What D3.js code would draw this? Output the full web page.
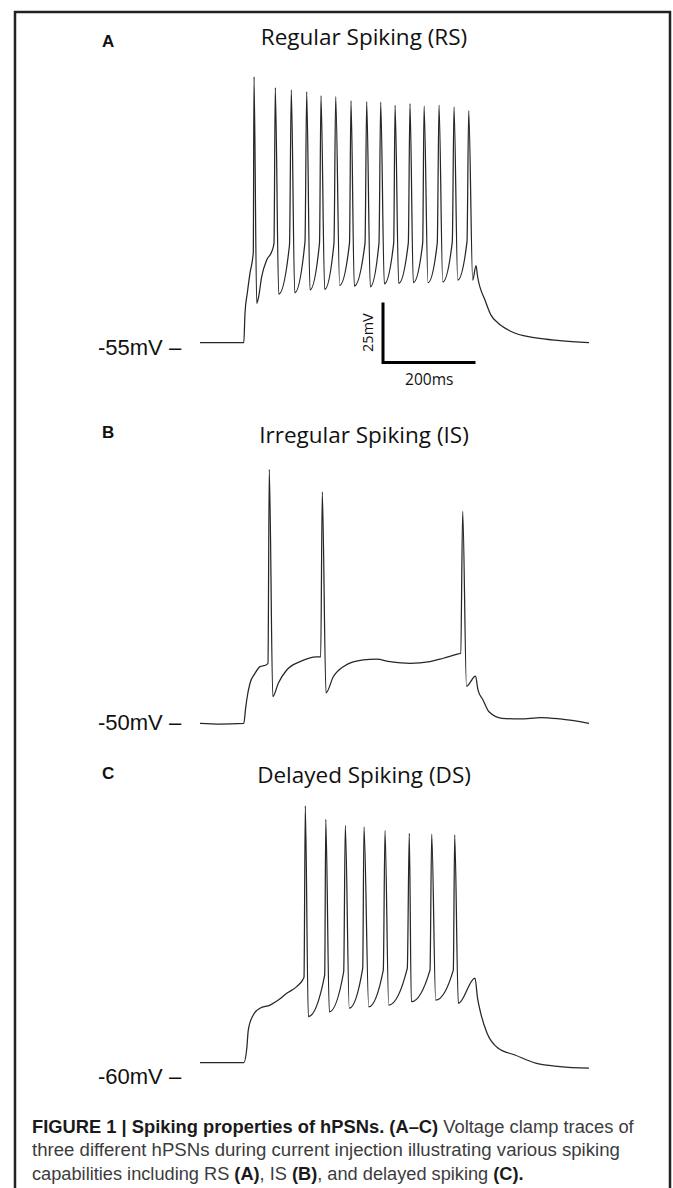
<!DOCTYPE html>
<html>
<head>
<meta charset="utf-8">
<script src="https://cdn.jsdelivr.net/npm/d3@7"></script>
<style>
  body { margin: 0; background: #fff; }
  svg { display: block; }
</style>
</head>
<body>
<script>
// Panel labels and titles
var panelLetters = ['A', 'B', 'C'];
var panelTitles = ['Regular Spiking (RS)', 'Irregular Spiking (IS)', 'Delayed Spiking (DS)'];
var restLabels = ['-55mV \u2013', '-50mV \u2013', '-60mV \u2013'];
var restPotentials = [-55, -50, -60];

// Regular spiking trace (ms, mV)
var rsTimes = [0, 94.7, 97.3, 102.3, 108.1, 115.2, 116.8, 122.6, 126.1, 133.4, 144.2, 155, 160, 162.8, 170.2,
  193.5, 197.4, 204.8, 227, 230.7, 237.8, 258.4, 261.6, 269.6, 289.7, 293.4, 302, 323.2, 326.5, 333.6,
  356.8, 360.4, 368.2, 387, 390.7, 398.5, 418.8, 421.8, 429.6, 450.4, 454, 461.2, 481.5, 484.5, 493,
  513, 516.8, 524.8, 545.5, 549.2, 557.2, 577.3, 581, 589.6, 596.8, 600, 616.2, 629.2, 644.3, 670.3,
  726.5, 778.4, 841];
var rsVolts = [-55, -55, -42.6, -34.3, -26, -17.5, 55.8, -38.6, -36.5, -27.5, -20.5, -17.1, -13.6, 51.3, -34.8,
  -14.3, 50.3, -34.2, -13, 49.6, -33, -13.5, 47.9, -32.8, -13.5, 47.5, -31.1, -13.5, 45.8, -31.4,
  -13.5, 45.4, -31.7, -13.5, 45.2, -30.5, -13.5, 43.9, -30.3, -13.5, 44.6, -30, -13.5, 43.6, -30,
  -13.5, 44, -29.7, -13, 43.3, -28.9, -12.9, 41.7, -28.9, -22.9, -27.2, -37.2, -43.5, -46.8, -50.1,
  -53, -54.1, -55];

// Irregular spiking trace (ms, mV)
var isTimes = [0, 43, 94.7, 98.5, 101, 108.1, 118.9, 129.7, 142.7, 147, 149.8, 157.4, 169.3, 187.5, 216.2,
  252.3, 261, 264.4, 272.4, 288.2, 309.8, 353.1, 381.6, 410.8, 454, 497.3, 526, 558.5, 563.7, 568,
  576.2, 595.7, 601, 611.9, 624.9, 653, 692, 737, 778.4, 841];
var isVolts = [-50, -50.3, -50, -44, -40.3, -33.3, -29.2, -26.4, -25.7, -25, 55.8, -38.9, -33.3, -27.8, -24.3,
  -22.3, -22.3, 46.4, -37.3, -30.6, -26.4, -23.6, -23.3, -24.3, -25, -24.3, -22.9, -21.1, -20.8, 38.3,
  -34.5, -30.3, -36.1, -40.3, -45.2, -47.9, -48.2, -47.6, -48.2, -50];

// Delayed spiking trace (ms, mV)
var dsTimes = [0, 94.7, 101.2, 104.4, 115.2, 124.3, 129.7, 151.4, 169.3, 187.5, 209.1, 222, 224.9, 227.7, 234.2,
  269.6, 272, 279.6, 310.7, 314.2, 322.8, 351.8, 354.6, 364.8, 396.3, 400, 408, 448.2, 452.5, 456.9,
  497.3, 501, 509.6, 547.7, 550.7, 558.5, 594.6, 600, 606.9, 620.5, 644.1, 681, 727.6, 778.4, 841];
var dsVolts = [-60, -60, -54, -46.4, -40.1, -38, -37.3, -36, -33.9, -31.1, -28.3, -25.5, -24.3, 47, -40.8,
  -23.5, 41.4, -38.8, -22.1, 38.9, -37.3, -20.7, 38.3, -36.7, -21.4, 36.7, -36, -20.7, 35.6, -34.6,
  -21.4, 35.2, -33.9, -21.4, 34.9, -35.3, -24.8, -33, -39.3, -47.6, -53.9, -56.8, -60.3, -61.6, -62.3];

var traceTimes = [rsTimes, isTimes, dsTimes];
var traceVolts = [rsVolts, isVolts, dsVolts];

// Scale bar values (ms, mV)
var scaleBarMs = 200;
var scaleBarMv = 25;

// Layout
var width = 673, height = 1188;
var msPx = 0.4625, mvPx = 2.4;
var restY = [342.7, 723.3, 1062.7];
var titleY = [45, 443.3, 783.3];
var letterY = [47, 438, 779];
var labelY = [355, 729.5, 1083.5];

var svg = d3.select('body').append('svg')
  .attr('width', width)
  .attr('height', height);

svg.append('rect')
  .attr('width', width).attr('height', height)
  .attr('fill', '#fff');

// Frame round the figure
svg.append('rect')
  .attr('x', 15).attr('y', 12)
  .attr('width', 655).attr('height', 1200)
  .attr('fill', 'none')
  .attr('stroke', '#222')
  .attr('stroke-width', 2.5);

var x = d3.scaleLinear().domain([0, 840]).range([200, 200 + 840 * msPx]);

panelLetters.forEach(function(letter, i){
  var rest = restPotentials[i];
  var y = d3.scaleLinear().domain([rest, rest + 100]).range([restY[i], restY[i] - 100 * mvPx]);
  var g = svg.append('g').attr('class', 'panel');

  g.append('text')
    .attr('x', 102).attr('y', letterY[i])
    .style('font-family', '"Liberation Sans", Arial, sans-serif')
    .style('font-weight', 'bold')
    .style('font-size', '17px')
    .attr('fill', '#111')
    .text(letter);

  g.append('text')
    .attr('x', 364).attr('y', titleY[i])
    .attr('text-anchor', 'middle')
    .style('font-family', '"Open Sans", sans-serif')
    .style('font-size', '22.5px')
    .attr('fill', '#111')
    .text(panelTitles[i]);

  g.append('text')
    .attr('x', 98).attr('y', labelY[i])
    .style('font-family', '"Liberation Sans", Arial, sans-serif')
    .style('font-size', '22px')
    .attr('fill', '#111')
    .text(restLabels[i]);

  var pts = traceTimes[i].map(function(t, k){ return [t, traceVolts[i][k]]; });
  var line = d3.line()
    .curve(d3.curveMonotoneX)
    .x(function(d){ return x(d[0]); })
    .y(function(d){ return y(d[1]); });

  g.append('path')
    .datum(pts)
    .attr('d', line)
    .attr('fill', 'none')
    .attr('stroke', '#262626')
    .attr('stroke-width', 1.25)
    .attr('stroke-linejoin', 'round');

  // Scale bar only in panel A
  if (i === 0) {
    var t0 = 395.7, v0 = -63.3;
    g.append('path')
      .attr('d', 'M' + x(t0) + ',' + y(v0 + scaleBarMv) + 'L' + x(t0) + ',' + y(v0) + 'L' + x(t0 + scaleBarMs) + ',' + y(v0))
      .attr('fill', 'none')
      .attr('stroke', '#000')
      .attr('stroke-width', 3);

    g.append('text')
      .attr('transform', 'translate(' + (x(t0) - 10) + ',' + y(v0 + scaleBarMv / 2) + ') rotate(-90)')
      .attr('text-anchor', 'middle')
      .style('font-family', '"Open Sans", sans-serif')
      .style('font-size', '14.5px')
      .attr('fill', '#111')
      .text(scaleBarMv + 'mV');

    g.append('text')
      .attr('x', x(t0 + scaleBarMs / 2)).attr('y', y(v0) + 22)
      .attr('text-anchor', 'middle')
      .style('font-family', '"Open Sans", sans-serif')
      .style('font-size', '15.5px')
      .attr('fill', '#111')
      .text(scaleBarMs + 'ms');
  }
});

// Caption
var captionLines = [
  [['FIGURE 1 | Spiking properties of hPSNs. (A\u2013C)', true], [' Voltage clamp traces of', false]],
  [['three different hPSNs during current injection illustrating various spiking', false]],
  [['capabilities including RS ', false], ['(A)', true], [', IS ', false], ['(B)', true],
   [', and delayed spiking ', false], ['(C).', true]]
];
var captionY = [1133, 1156.5, 1180];
var captionLeft = 32;
var captionWidths = [602, 588, 492];

captionLines.forEach(function(parts, i){
  var t = svg.append('text')
    .attr('y', captionY[i])
    .style('font-family', '"Liberation Sans", Arial, sans-serif')
    .style('font-size', '18.5px');
  parts.forEach(function(p){
    t.append('tspan')
      .style('font-weight', p[1] ? 'bold' : 'normal')
      .attr('fill', p[1] ? '#1a1a1a' : '#3c3c3c')
      .text(p[0]);
  });
  // Condense each line like the narrow face of the original
  var squeeze = captionWidths[i] / t.node().getComputedTextLength();
  t.attr('transform', 'translate(' + captionLeft + ',0) scale(' + squeeze + ',1)');
});
</script>
</body>
</html>
